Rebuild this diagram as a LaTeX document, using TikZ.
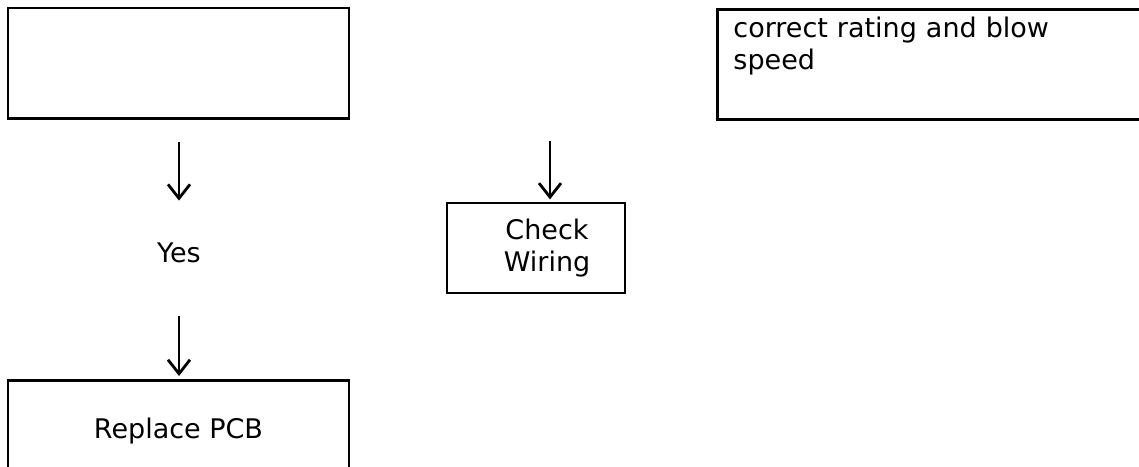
\documentclass[tikz,border=0pt]{standalone}
\usepackage{fontspec}
\setmainfont{DejaVu Sans}
\usetikzlibrary{arrows.meta, positioning}

\begin{document}
\begin{tikzpicture}[x=1pt, y=-1pt, >={Straight Barb[length=14pt,width=22pt]},
    font=\fontsize{27}{32}\selectfont,
    bigbox/.style={draw, line width=2.9pt, inner sep=0pt, minimum width=341pt},
    smallbox/.style={draw, line width=2.2pt, inner sep=0pt},
    arr/.style={->, line width=2.8pt}]
    % Rahmen
    \useasboundingbox (0,0) rectangle (1139,466);
    \clip (0,0) rectangle (1139,466);

    % Kästen
    \node[bigbox, minimum height=110.5pt] (top) at (178.5,63.25) {};
    \node[bigbox, anchor=north west, text width=600pt, align=left,
          inner xsep=16pt, text height=28pt, text depth=82pt] (fuse) at (716,8)
         {correct rating and blow\\speed};
    \node[smallbox, minimum width=178pt, minimum height=90pt,
          label={[xshift=11pt, align=center, inner sep=0pt]center:Check\\Wiring}]
         (wiring) at (536,248) {};
    \node[anchor=base, inner sep=0pt] (yes) at (179,262) {Yes};
    \node[bigbox, anchor=north, minimum height=102pt] (pcb) at (178.5,379) {Replace PCB};

    % Pfeile
    \coordinate (wtop) at (550,141);
    \draw[arr, shorten <=22pt, shorten >=41.5pt] (top.south -| yes) -- (yes.north);
    \draw[arr, shorten <=53pt, shorten >=3pt] (yes.south) -- (pcb.north -| yes);
    \draw[arr, shorten >=2.5pt] (wtop) -- (wtop |- wiring.north);

\end{tikzpicture}
\end{document}
